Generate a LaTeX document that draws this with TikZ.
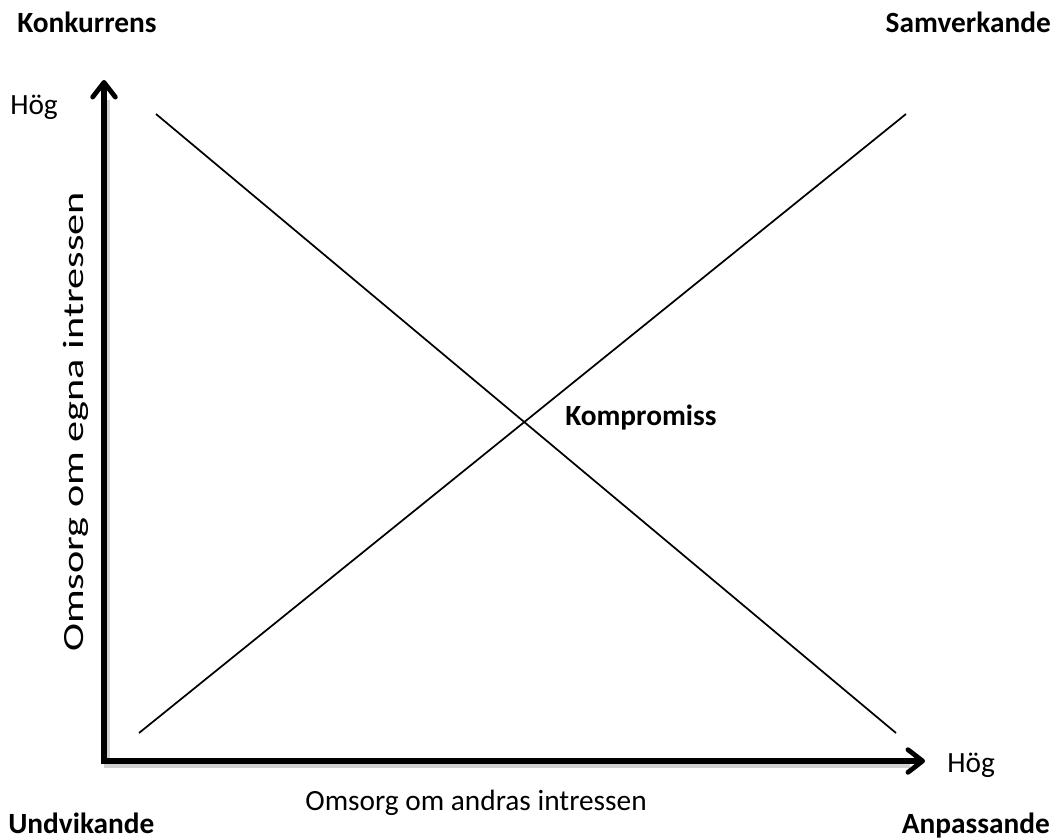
\documentclass[tikz,border=0pt]{standalone}
\usepackage{fontspec}
\setmainfont{Carlito}
\usetikzlibrary{arrows.meta}
\newcommand{\diagfont}{\fontsize{22}{26}\selectfont}
\tikzset{
	axis/.style={line width=3.8pt, line join=miter, {Straight Barb[length=11pt, width=17pt, line width=3.6pt, round]}-{Straight Barb[length=11pt, width=17pt, line width=3.6pt, round]}},
	axisshadow/.style={line width=3.8pt, draw=black!18},
	mode/.style={font=\diagfont\bfseries, inner sep=0pt},
	axlabel/.style={font=\diagfont, inner sep=0pt},
}
\begin{document}
\begin{tikzpicture}[x=0.75pt, y=-0.75pt]
	\useasboundingbox (0,0) rectangle (1056,839);
	\coordinate (origin) at (104,761);
	\coordinate (ytip) at (104,80);
	\coordinate (xtip) at (925,761);
	%
	\draw [axisshadow] (107,100) -- (107,765) -- (910,765);
	\draw [axis] (ytip) -- (origin) -- (xtip);
	%
	\coordinate (nw) at (156,114);
	\coordinate (se) at (896,733);
	\coordinate (sw) at (139,733);
	\coordinate (ne) at (906,114);
	\draw [line width=1.3pt] (nw) -- (se);
	\draw [line width=1.3pt] (sw) -- (ne);
	%
	\node [mode, anchor=base west] (konk) at (17,32) {Konkurrens};
	\node [mode, anchor=base east] (samv) at (1051,32) {Samverkande};
	\node [mode, anchor=base west] (komp) at (565,425) {Kompromiss};
	\node [mode, anchor=base west] (undv) at (8,833) {Undvikande};
	\node [mode, anchor=base east] (anpa) at (1050,833) {Anpassande};
	%
	\node [axlabel, anchor=base west] (yhog) at (10,114) {Hög};
	\node [axlabel, anchor=base west] (xhog) at (947,772) {Hög};
	\coordinate (ylabpos) at (83,422);
	\node [axlabel, anchor=base, rotate=90, xscale=1.44] (ylab) at (ylabpos) {Omsorg om egna intressen};
	\node [axlabel, anchor=base] (xlab) at (476,810) {Omsorg om andras intressen};
\end{tikzpicture}
\end{document}
